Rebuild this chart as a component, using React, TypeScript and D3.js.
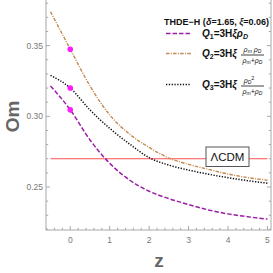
import React from "react";
import * as d3 from "d3";

const zValues = [-0.5, 0, 0.5, 1, 1.5, 2, 2.5, 3, 3.5, 4, 4.5, 5];
const q1Values = [0.3215, 0.3046, 0.2833, 0.2668, 0.255, 0.247, 0.2418, 0.2376, 0.2338, 0.231, 0.229, 0.2273];
const q2Values = [0.374, 0.3475, 0.3215, 0.301, 0.2875, 0.278, 0.2705, 0.266, 0.2625, 0.2592, 0.2567, 0.2548];
const q3Values = [0.329, 0.32, 0.3045, 0.2915, 0.2805, 0.2708, 0.2655, 0.262, 0.2591, 0.2566, 0.2545, 0.2527];
const lcdmValue = 0.27;
const xMajorTicks = [0, 1, 2, 3, 4, 5];
const yMajorTicks = [0.25, 0.3, 0.35];

const W = 273, H = 273;
const L = 46, R = 271, B = 230, T = -2;

export default function App() {
  const x = d3.scaleLinear().domain([-0.615, 5.09]).range([L, R]);
  const y = d3.scaleLinear().domain([0.2196, 0.3837]).range([B, T]);
  const line = d3
    .line<number>()
    .x((_, i) => x(zValues[i]))
    .y((d) => y(d))
    .curve(d3.curveMonotoneX);

  const xMinor = d3.range(-0.6, 5.01, 0.2).filter((v) => Math.abs(v - Math.round(v)) > 0.01);
  const yMinor = d3.range(0.22, 0.385, 0.01).filter((v) => Math.abs(v * 20 - Math.round(v * 20)) > 0.01);

  const purple = "#9a1ea6";
  const orange = "#c48a50";
  const frame = "#a8a8a8";
  const tickText = "#777";
  const font = "'Liberation Sans', Arial, sans-serif";

  const dots = [q1Values[1], q2Values[1], q3Values[1]];

  return (
    <svg width={W} height={H} style={{ position: "absolute", left: 0, top: 0 }} fontFamily={font}>
      <rect x={0} y={0} width={W} height={H} fill="#fff" />
      <rect x={L} y={T} width={R - L} height={B - T} fill="none" stroke={frame} strokeWidth={1} />
      {xMajorTicks.map((t) => (
        <g key={"xm" + t}>
          <line x1={x(t)} x2={x(t)} y1={B} y2={B - 4} stroke={frame} />
          <text x={x(t)} y={243} fontSize={8.5} fill={tickText} textAnchor="middle">
            {t}
          </text>
        </g>
      ))}
      {xMinor.map((t, i) => (
        <line key={"xn" + i} x1={x(t)} x2={x(t)} y1={B} y2={B - 2.2} stroke={frame} />
      ))}
      {yMajorTicks.map((t) => (
        <g key={"ym" + t}>
          <line x1={L} x2={L + 4} y1={y(t)} y2={y(t)} stroke={frame} />
          <line x1={R} x2={R - 4} y1={y(t)} y2={y(t)} stroke={frame} />
          <text x={43} y={y(t) + 3} fontSize={8.5} fill={tickText} textAnchor="end">
            {d3.format(".2f")(t)}
          </text>
        </g>
      ))}
      {yMinor.map((t, i) => (
        <g key={"yn" + i}>
          <line x1={L} x2={L + 2.2} y1={y(t)} y2={y(t)} stroke={frame} />
          <line x1={R} x2={R - 2.2} y1={y(t)} y2={y(t)} stroke={frame} />
        </g>
      ))}
      <text x={159} y={267} fontSize={19} fontWeight="bold" fill="#666" textAnchor="middle">
        z
      </text>
      <text
        transform={`translate(19,${y(0.3)}) rotate(-90)`}
        fontSize={19}
        fontWeight="bold"
        fill="#666"
        textAnchor="middle"
      >
        Om
      </text>
      <line x1={x(-0.5)} x2={x(5)} y1={y(lcdmValue)} y2={y(lcdmValue)} stroke="#ff5050" strokeWidth={1.2} />
      <path d={line(q2Values) || ""} fill="none" stroke={orange} strokeWidth={1.4} strokeDasharray="3.5,1.3,1,1.3" />
      <path d={line(q3Values) || ""} fill="none" stroke="#111" strokeWidth={1.5} strokeDasharray="1.3,1.5" />
      <path d={line(q1Values) || ""} fill="none" stroke={purple} strokeWidth={1.5} strokeDasharray="4.5,2" />
      {dots.map((v, i) => (
        <circle key={"d" + i} cx={x(0)} cy={y(v)} r={2.8} fill="#ff1cff" />
      ))}
      <rect x={206} y={147} width={43} height={19.5} fill="#fff" stroke="#555" strokeWidth={1} />
      <text x={227.5} y={161} fontSize={11.5} fill="#111" textAnchor="middle">
        ΛCDM
      </text>
      <text x={269} y={25} fontSize={9} fontWeight="bold" textAnchor="end" fill="#111">
        THDE−H (<tspan fontStyle="italic">δ</tspan>=1.65, <tspan fontStyle="italic">ξ</tspan>=0.06)
      </text>
      <line x1={166} x2={191} y1={33.5} y2={33.5} stroke={purple} strokeWidth={1.5} strokeDasharray="4.5,2" />
      <text x={202} y={37} fontSize={10} fontWeight="bold" fill="#111">
        <tspan fontStyle="italic">Q</tspan>
        <tspan fontSize={7} dy={2}>1</tspan>
        <tspan dy={-2}>=3H</tspan>
        <tspan fontStyle="italic">ξρ</tspan>
        <tspan fontSize={7} dy={2} fontStyle="italic">D</tspan>
      </text>
      <line x1={166} x2={191} y1={53.5} y2={53.5} stroke={orange} strokeWidth={1.4} strokeDasharray="3.5,1.3,1,1.3" />
      <text x={202} y={57} fontSize={10} fontWeight="bold" fill="#111">
        <tspan fontStyle="italic">Q</tspan>
        <tspan fontSize={7} dy={2}>2</tspan>
        <tspan dy={-2}>=3H</tspan>
        <tspan fontStyle="italic">ξ</tspan>
      </text>
      <line x1={241} x2={264} y1={55} y2={55} stroke="#111" strokeWidth={0.8} />
      <text x={252.5} y={52} fontSize={7} fontStyle="italic" fill="#111" textAnchor="middle">
        ρ<tspan fontSize={5} dy={1}>m</tspan> <tspan dy={-1}>ρ</tspan><tspan fontSize={5} dy={1}>D</tspan>
      </text>
      <text x={252.5} y={62.5} fontSize={7} fontStyle="italic" fill="#111" textAnchor="middle">
        ρ<tspan fontSize={5} dy={1}>m</tspan><tspan dy={-1}>+ρ</tspan><tspan fontSize={5} dy={1}>D</tspan>
      </text>
      <line x1={166} x2={191} y1={84.5} y2={84.5} stroke="#111" strokeWidth={1.5} strokeDasharray="1.3,1.5" />
      <text x={202} y={88} fontSize={10} fontWeight="bold" fill="#111">
        <tspan fontStyle="italic">Q</tspan>
        <tspan fontSize={7} dy={2}>3</tspan>
        <tspan dy={-2}>=3H</tspan>
        <tspan fontStyle="italic">ξ</tspan>
      </text>
      <line x1={241} x2={264} y1={86} y2={86} stroke="#111" strokeWidth={0.8} />
      <text x={249} y={83} fontSize={7} fontStyle="italic" fill="#111" textAnchor="middle">
        ρ<tspan fontSize={5} dy={1}>D</tspan><tspan fontSize={5.5} dy={-4.5} fontStyle="normal">2</tspan>
      </text>
      <text x={252.5} y={93.5} fontSize={7} fontStyle="italic" fill="#111" textAnchor="middle">
        ρ<tspan fontSize={5} dy={1}>m</tspan><tspan dy={-1}>+ρ</tspan><tspan fontSize={5} dy={1}>D</tspan>
      </text>
    </svg>
  );
}
